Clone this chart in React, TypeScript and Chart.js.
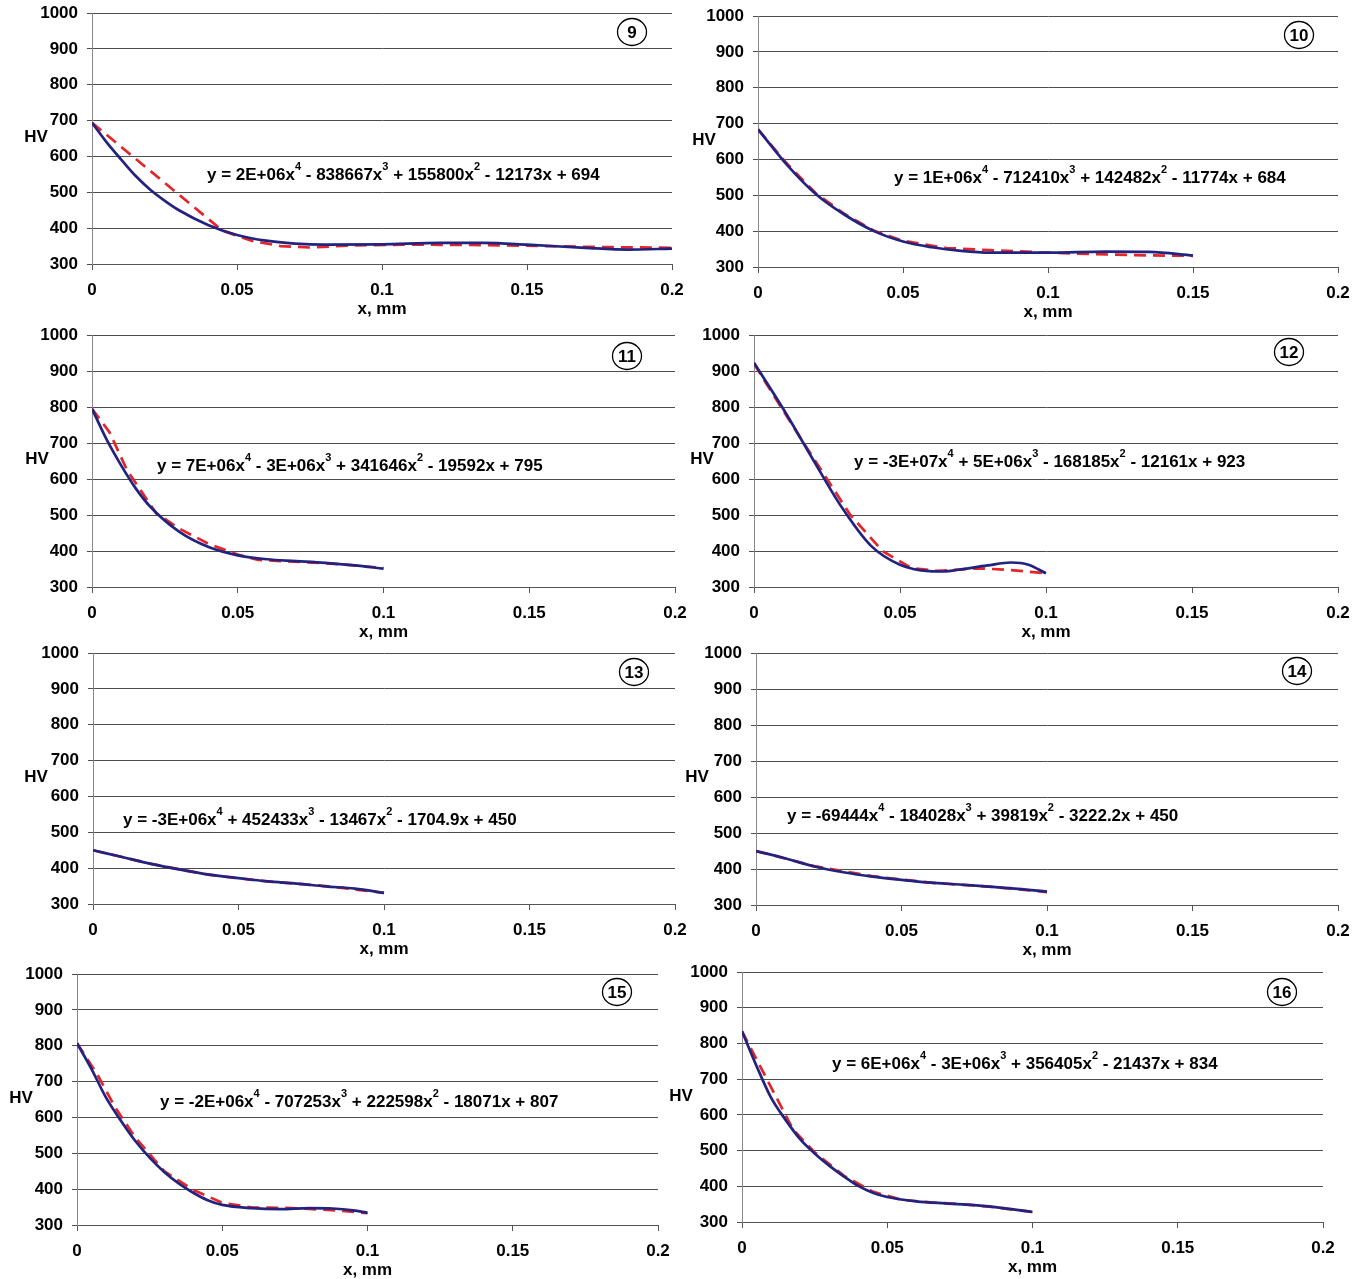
import React, { useEffect, useRef } from "react";
import { Chart, registerables } from "chart.js";

Chart.register(...registerables);

// ---------- shared axis data ----------
const xTickValues = [0, 0.05, 0.1, 0.15, 0.2];
const xTickLabels = ["0", "0.05", "0.1", "0.15", "0.2"];
const yTickValues = [300, 400, 500, 600, 700, 800, 900, 1000];
const yTickLabels = ["300", "400", "500", "600", "700", "800", "900", "1000"];
const xTitle = "x, mm";
const yTitle = "HV";

const panelNumbers = ["9", "10", "11", "12", "13", "14", "15", "16"];
const equations = [
  "y = 2E+06x^4 - 838667x^3 + 155800x^2 - 12173x + 694",
  "y = 1E+06x^4 - 712410x^3 + 142482x^2 - 11774x + 684",
  "y = 7E+06x^4 - 3E+06x^3 + 341646x^2 - 19592x + 795",
  "y = -3E+07x^4 + 5E+06x^3 - 168185x^2 - 12161x + 923",
  "y = -3E+06x^4 + 452433x^3 - 13467x^2 - 1704.9x + 450",
  "y = -69444x^4 - 184028x^3 + 39819x^2 - 3222.2x + 450",
  "y = -2E+06x^4 - 707253x^3 + 222598x^2 - 18071x + 807",
  "y = 6E+06x^4 - 3E+06x^3 + 356405x^2 - 21437x + 834",
];

// ---------- series data (measured = red dashed, trend = blue) ----------
const p9MeasX = [0, 0.045, 0.055, 0.065, 0.075, 0.09, 0.11, 0.13, 0.15, 0.17, 0.2];
const p9MeasHV = [694, 393, 365, 350, 346, 352, 354, 353, 351, 348, 345];
const p9TrendX = [0, 0.005, 0.01, 0.015, 0.02, 0.025, 0.03, 0.04, 0.05, 0.06, 0.07, 0.08, 0.1, 0.12, 0.135, 0.15, 0.17, 0.185, 0.2];
const p9TrendHV = [694, 640, 592, 546, 508, 477, 450, 409, 381, 365, 357, 354, 355, 359, 359, 354, 345, 340, 343];

const p10MeasX = [0, 0.01, 0.02, 0.03, 0.04, 0.05, 0.065, 0.08, 0.1, 0.12, 0.13, 0.15];
const p10MeasHV = [684, 588, 505, 447, 401, 373, 353, 347, 340, 335, 333, 331];
const p10TrendX = [0, 0.01, 0.02, 0.03, 0.04, 0.05, 0.06, 0.07, 0.08, 0.1, 0.12, 0.135, 0.15];
const p10TrendHV = [684, 585, 503, 445, 400, 371, 355, 345, 340, 340, 343, 342, 332];

const p11MeasX = [0, 0.006, 0.012, 0.022, 0.03, 0.04, 0.05, 0.057, 0.065, 0.08, 0.09, 0.1];
const p11MeasHV = [795, 730, 625, 505, 462, 420, 390, 375, 372, 366, 360, 353];
const p11TrendX = [0, 0.005, 0.01, 0.015, 0.02, 0.03, 0.04, 0.05, 0.06, 0.07, 0.08, 0.09, 0.1];
const p11TrendHV = [795, 710, 638, 574, 523, 453, 411, 388, 377, 372, 367, 360, 351];

const p12MeasX = [0, 0.01, 0.017, 0.025, 0.033, 0.044, 0.054, 0.063, 0.077, 0.088, 0.1];
const p12MeasHV = [920, 790, 700, 600, 500, 400, 352, 345, 352, 347, 338];
const p12TrendX = [0, 0.01, 0.02, 0.03, 0.04, 0.05, 0.06, 0.065, 0.07, 0.08, 0.088, 0.094, 0.1];
const p12TrendHV = [923, 795, 657, 522, 415, 362, 344, 343, 348, 360, 368, 362, 338];

const p13MeasX = [0, 0.02, 0.04, 0.06, 0.08, 0.1];
const p13MeasHV = [450, 412, 381, 363, 350, 331];
const p13TrendX = [0, 0.01, 0.02, 0.03, 0.04, 0.05, 0.06, 0.07, 0.08, 0.09, 0.1];
const p13TrendHV = [450, 431, 412, 396, 382, 372, 363, 357, 349, 343, 331];

const p14MeasX = [0, 0.02, 0.04, 0.06, 0.08, 0.1];
const p14MeasHV = [450, 408, 380, 362, 351, 336];
const p14TrendX = [0, 0.01, 0.02, 0.03, 0.04, 0.05, 0.06, 0.07, 0.08, 0.09, 0.1];
const p14TrendHV = [450, 430, 407, 391, 379, 370, 362, 357, 351, 345, 337];

const p15MeasX = [0, 0.007, 0.013, 0.02, 0.03, 0.04, 0.05, 0.06, 0.07, 0.08, 0.09, 0.1];
const p15MeasHV = [807, 720, 630, 545, 450, 398, 362, 349, 348, 345, 340, 333];
const p15TrendX = [0, 0.005, 0.01, 0.015, 0.02, 0.025, 0.03, 0.035, 0.04, 0.045, 0.05, 0.06, 0.07, 0.08, 0.088, 0.095, 0.1];
const p15TrendHV = [807, 735, 655, 592, 535, 488, 448, 416, 390, 369, 356, 347, 344, 347, 346, 341, 334];

const p16MeasX = [0, 0.0175, 0.025, 0.035, 0.045, 0.055, 0.065, 0.075, 0.085, 0.1];
const p16MeasHV = [834, 560, 495, 430, 385, 362, 355, 350, 343, 328];
const p16TrendX = [0, 0.005, 0.01, 0.015, 0.02, 0.025, 0.03, 0.035, 0.04, 0.045, 0.05, 0.06, 0.07, 0.08, 0.09, 0.1];
const p16TrendHV = [834, 737, 648, 586, 532, 492, 458, 428, 401, 382, 370, 358, 352, 347, 339, 328];

const measX = [p9MeasX, p10MeasX, p11MeasX, p12MeasX, p13MeasX, p14MeasX, p15MeasX, p16MeasX];
const measHV = [p9MeasHV, p10MeasHV, p11MeasHV, p12MeasHV, p13MeasHV, p14MeasHV, p15MeasHV, p16MeasHV];
const trendX = [p9TrendX, p10TrendX, p11TrendX, p12TrendX, p13TrendX, p14TrendX, p15TrendX, p16TrendX];
const trendHV = [p9TrendHV, p10TrendHV, p11TrendHV, p12TrendHV, p13TrendHV, p14TrendHV, p15TrendHV, p16TrendHV];

// ---------- layout (page pixels of each plot area, and annotation offsets) ----------
const plotLeft = [92, 758, 92, 754, 93, 756, 77, 742];
const plotRight = [672, 1338, 675, 1338, 675, 1338, 658, 1323];
const plotTop = [13, 16, 335, 335, 653, 653, 974, 972];
const plotBottom = [264, 267, 587, 587, 904, 905, 1225, 1222];
const eqOffset = [[115, 162], [136, 162], [65, 131], [100, 127], [30, 167], [31, 163], [83, 128], [90, 92]];
const badgeOffset = [[-40, 19], [-39, 19], [-48, 21], [-49, 17], [-41, 19], [-41, 18], [-41, 18], [-41, 20]];
const hvOffset = [-56, -54, -55, -52, -57, -59, -56, -61];

const Y_AXIS_W = 80;
const X_AXIS_H = 60;
const PAD_TOP = 24;
const PAD_RIGHT = 26;
const FONT_FAMILY = '"Liberation Sans", Arial, Helvetica, sans-serif';
const FONT = { family: FONT_FAMILY, size: 17, weight: "bold" as const };

const decorPlugin = {
  id: "panelDecor",
  afterDraw(chart: any, _args: any, opts: any) {
    const { ctx, chartArea } = chart;
    ctx.save();
    ctx.fillStyle = "#000";
    ctx.strokeStyle = "#000";
    // HV axis title (horizontal, Excel style)
    ctx.font = `bold 17px ${FONT_FAMILY}`;
    ctx.textAlign = "center";
    ctx.textBaseline = "middle";
    ctx.fillText(opts.yTitle, chartArea.left + opts.hvDx, chartArea.top + 124);

    // equation with superscripts
    const parts: string[] = opts.equation.split(/\^(\d)/);
    let x = chartArea.left + opts.eqDx;
    const y = chartArea.top + opts.eqDy;
    ctx.textAlign = "left";
    parts.forEach((p: string, i: number) => {
      if (i % 2 === 1) {
        ctx.font = `bold 11px ${FONT_FAMILY}`;
        ctx.fillText(p, x, y - 8);
      } else {
        ctx.font = `bold 17px ${FONT_FAMILY}`;
        ctx.fillText(p, x, y);
      }
      x += ctx.measureText(p).width;
    });

    // circled panel number
    const bx = chartArea.right + opts.badgeDx;
    const by = chartArea.top + opts.badgeDy;
    ctx.beginPath();
    ctx.ellipse(bx, by, 14.5, 13.5, 0, 0, Math.PI * 2);
    ctx.lineWidth = 1.3;
    ctx.fillStyle = "#fff";
    ctx.fill();
    ctx.stroke();
    ctx.fillStyle = "#000";
    ctx.font = `bold 17px ${FONT_FAMILY}`;
    ctx.textAlign = "center";
    ctx.fillText(opts.badge, bx, by + 1);
    ctx.restore();
  },
};

function Panel({ i }: { i: number }) {
  const ref = useRef<HTMLCanvasElement>(null);
  const w = Y_AXIS_W + (plotRight[i] - plotLeft[i]) + PAD_RIGHT;
  const h = PAD_TOP + (plotBottom[i] - plotTop[i]) + X_AXIS_H;

  useEffect(() => {
    if (!ref.current) return;
    const trend = trendX[i].map((x, k) => ({ x, y: trendHV[i][k] }));
    const meas = measX[i].map((x, k) => ({ x, y: measHV[i][k] }));
    const chart = new Chart(ref.current, {
      type: "line",
      data: {
        datasets: [
          {
            label: "trend",
            data: trend,
            borderColor: "#23237f",
            borderWidth: 2.7,
            pointRadius: 0,
            cubicInterpolationMode: "monotone",
            fill: false,
          },
          {
            label: "measured",
            data: meas,
            borderColor: "#e3262a",
            borderWidth: 2.7,
            borderDash: [12, 7],
            pointRadius: 0,
            tension: 0,
            fill: false,
          },
        ],
      },
      options: {
        responsive: false,
        animation: false,
        devicePixelRatio: 1,
        layout: { padding: { top: PAD_TOP, right: PAD_RIGHT, left: 0, bottom: 0 } },
        plugins: {
          legend: { display: false },
          tooltip: { enabled: false },
          panelDecor: {
            equation: equations[i],
            eqDx: eqOffset[i][0],
            eqDy: eqOffset[i][1],
            badge: panelNumbers[i],
            badgeDx: badgeOffset[i][0],
            badgeDy: badgeOffset[i][1],
            hvDx: hvOffset[i],
            yTitle,
          },
        } as any,
        scales: {
          x: {
            type: "linear",
            min: 0,
            max: 0.2,
            afterBuildTicks: (s: any) => {
              s.ticks = xTickValues.map((v) => ({ value: v }));
            },
            afterFit: (s: any) => {
              s.height = X_AXIS_H;
            },
            ticks: {
              callback: (_v: any, idx: number) => xTickLabels[idx],
              font: FONT,
              color: "#000",
              padding: 10,
              maxRotation: 0,
              autoSkip: false,
            },
            grid: { drawOnChartArea: false, drawTicks: true, tickLength: 6, color: "#555" },
            border: { display: true, color: "#555", width: 1 },
            title: { display: true, text: xTitle, font: FONT, color: "#000", padding: { top: 0, bottom: 4 } },
          },
          y: {
            type: "linear",
            min: 300,
            max: 1000,
            afterBuildTicks: (s: any) => {
              s.ticks = yTickValues.map((v) => ({ value: v }));
            },
            afterFit: (s: any) => {
              s.width = Y_AXIS_W;
            },
            ticks: {
              callback: (_v: any, idx: number) => yTickLabels[idx],
              font: FONT,
              color: "#000",
              padding: 9,
              autoSkip: false,
            },
            grid: { color: "#4d4d4d", lineWidth: 1, drawTicks: true, tickLength: 5 },
            border: { display: true, color: "#888", width: 1 },
          },
        },
      },
      plugins: [decorPlugin],
    } as any);
    return () => chart.destroy();
  }, [i]);

  return (
    <canvas
      ref={ref}
      width={w}
      height={h}
      style={{
        position: "absolute",
        left: plotLeft[i] - Y_AXIS_W,
        top: plotTop[i] - PAD_TOP,
        width: w,
        height: h,
      }}
    />
  );
}

export default function App() {
  return (
    <div
      style={{
        position: "absolute",
        left: 0,
        top: 0,
        width: 1365,
        height: 1279,
        background: "#fff",
        overflow: "hidden",
      }}
    >
      {panelNumbers.map((_, i) => (
        <Panel key={i} i={i} />
      ))}
    </div>
  );
}
